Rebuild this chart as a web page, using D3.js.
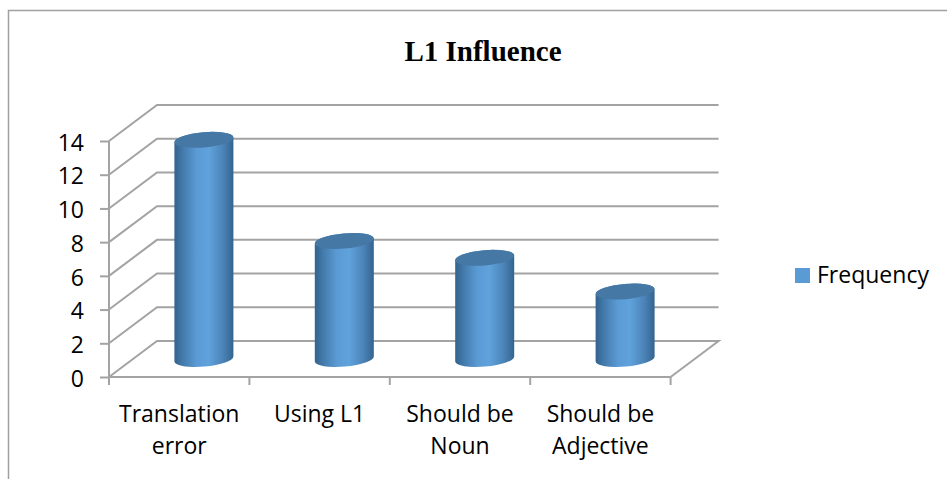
<!DOCTYPE html>
<html>
<head>
<meta charset="utf-8">
<script src="https://cdn.jsdelivr.net/npm/d3@7"></script>
<style>
html, body { margin: 0; padding: 0; background: #fff; }
svg { display: block; }
text { fill: #000; font-family: "Open Sans", sans-serif; font-size: 23px; }
.chartTitle { font-family: "Liberation Serif", serif; font-weight: bold; font-size: 29px; }
</style>
</head>
<body>
<script>
(function(){

//chart data
var categories = ["Translation error", "Using L1", "Should be Noun", "Should be Adjective"];
var categoryLines = [["Translation", "error"], ["Using L1"], ["Should be", "Noun"], ["Should be", "Adjective"]];
var frequency = [13, 7, 6, 4];
var yTicks = [0, 2, 4, 6, 8, 10, 12, 14];
var seriesName = "Frequency";
var titleText = "L1 Influence";

//frame dimensions
var width = 947,
    height = 479,
    depthX = 48,
    depthY = -36;

var yScale = d3.scaleLinear().domain([0, 14]).range([377, 141]);
var xScale = d3.scaleBand().domain(categories).range([109, 670.6]);

var gridColor = "#a3a3a3";

var svg = d3.select("body").append("svg")
    .attr("width", width)
    .attr("height", height);

//gradient for the cylinder sides
var defs = svg.append("defs");
var gradient = defs.append("linearGradient").attr("id", "cyl");
[[0, "#33628d"], [0.14, "#437aab"], [0.38, "#5b9bd5"], [0.58, "#60a2dc"], [0.82, "#4b84b8"], [1, "#34648f"]].forEach(function(s){
    gradient.append("stop").attr("offset", s[0]).attr("stop-color", s[1]);
});

//outer frame, only top and left edges show
svg.append("path")
    .attr("d", "M8.5," + height + "V10.5H" + width)
    .attr("fill", "none")
    .attr("stroke", "#a0a0a0")
    .attr("stroke-width", 1.5);

svg.append("text")
    .attr("class", "chartTitle")
    .attr("x", 483)
    .attr("y", 61)
    .attr("text-anchor", "middle")
    .text(titleText);

//walls: back gridlines and side diagonals
var walls = svg.append("g")
    .attr("fill", "none")
    .attr("stroke", gridColor)
    .attr("stroke-width", 2);

walls.selectAll(".grid")
    .data(yTicks)
    .enter()
    .append("path")
    .attr("class", "grid")
    .attr("d", function(d){
        var y = yScale(d);
        var x0 = xScale.range()[0], x1 = xScale.range()[1];
        if (d === 0) {
            return "M" + x0 + "," + y + "L" + (x0 + depthX) + "," + (y + depthY) + "H" + (x1 + depthX) + "L" + x1 + "," + y;
        }
        return "M" + x0 + "," + y + "L" + (x0 + depthX) + "," + (y + depthY) + "H" + (x1 + depthX);
    });

//front y axis
var yAxis = svg.append("g")
    .attr("transform", "translate(109,0)")
    .call(d3.axisLeft(yScale).tickValues(yTicks).tickSize(9).tickPadding(16));
yAxis.selectAll("path, line").attr("stroke", gridColor).attr("stroke-width", 2);
yAxis.select(".domain").attr("d", "M0," + yScale(14) + "V" + yScale(0));
yAxis.selectAll("text").attr("font-size", null).attr("font-family", null).attr("dy", "0.4em");

//front x axis, ticks sit on band edges
var bandEdges = categories.map(function(d){ return xScale(d); }).concat([xScale.range()[1]]);
var xAxis = svg.append("g").attr("stroke", gridColor).attr("stroke-width", 2).attr("fill", "none");
xAxis.append("path").attr("d", "M109," + yScale(0) + "H" + xScale.range()[1]);
xAxis.selectAll("line")
    .data(bandEdges)
    .enter()
    .append("line")
    .attr("x1", function(d){ return d; })
    .attr("x2", function(d){ return d; })
    .attr("y1", yScale(0))
    .attr("y2", yScale(0) + 8);

//category labels
var labels = svg.selectAll(".catLabel")
    .data(categories)
    .enter()
    .append("text")
    .attr("class", "catLabel")
    .attr("text-anchor", "middle");
labels.selectAll("tspan")
    .data(function(d, i){ return categoryLines[i].map(function(t){ return {t: t, c: d}; }); })
    .enter()
    .append("tspan")
    .attr("x", function(d){ return xScale(d.c) + xScale.bandwidth() / 2; })
    .attr("y", function(d, i){ return 422 + i * 32; })
    .text(function(d){ return d.t; });

//cylinders, placed about halfway into the depth of the floor
var rx = 29.5, ry = 7.6, tilt = -5, skew = 2.6;
var bars = svg.selectAll(".bar")
    .data(categories)
    .enter()
    .append("g")
    .attr("class", "bar");

function centerX(c){ return xScale(c) + xScale.bandwidth() / 2 + depthX / 2 + 0.7; }
function yAt(v){ return yScale(v) + depthY / 2; }
var barBase = yAt(0);

bars.append("path")
    .attr("fill", "url(#cyl)")
    .attr("d", function(d, i){
        var cx = centerX(d), top = yAt(frequency[i]);
        return "M" + (cx - rx) + "," + (top + skew) +
            "V" + (barBase + skew) +
            "A" + rx + "," + ry + " " + tilt + " 0 0 " + (cx + rx) + "," + (barBase - skew) +
            "V" + (top - skew) +
            "A" + rx + "," + ry + " " + tilt + " 0 0 " + (cx - rx) + "," + (top + skew) + "Z";
    });

bars.append("ellipse")
    .attr("rx", rx)
    .attr("ry", ry)
    .attr("fill", "#4678a6")
    .attr("transform", function(d, i){
        return "translate(" + centerX(d) + "," + yAt(frequency[i]) + ") rotate(" + tilt + ")";
    });

//legend
svg.append("rect")
    .attr("x", 795)
    .attr("y", 268)
    .attr("width", 15)
    .attr("height", 15)
    .attr("fill", "#5b9bd5");
svg.append("text")
    .attr("x", 817)
    .attr("y", 283)
    .text(seriesName);

})();
</script>
</body>
</html>
